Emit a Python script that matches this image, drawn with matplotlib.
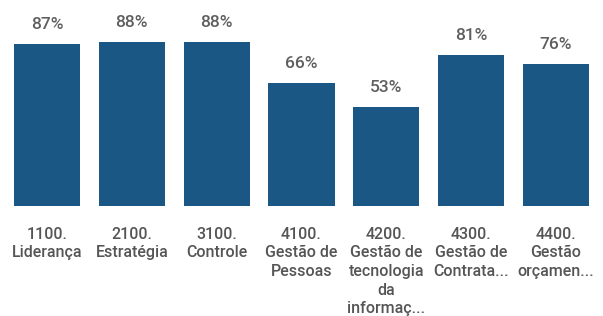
import matplotlib.pyplot as plt

plt.rcParams['font.family'] = ['Roboto', 'DejaVu Sans']

categories = ['1100.\nLiderança', '2100.\nEstratégia', '3100.\nControle',
              '4100.\nGestão de\nPessoas', '4200.\nGestão de\ntecnologia\nda\ninformaç...',
              '4300.\nGestão de\nContrata...', '4400.\nGestão\norçamen...']
values = [87, 88, 88, 66, 53, 81, 76]

fig = plt.figure(figsize=(6.03, 3.16), dpi=100)
ax = fig.add_axes([0.0076, 0.348, 0.9848, 0.652])

x = range(len(values))
bars = ax.bar(x, values, width=0.78, color='#1a5785')
for xi, v in zip(x, values):
    ax.text(xi, v + 6.5, f'{v}%', ha='center', va='bottom', fontsize=12.5,
            color='#5f5f5f', fontweight='medium')

ax.set_xlim(-0.5, len(values) - 0.5)
ax.set_ylim(0, 110.5)
ax.set_xticks(list(x))
ax.set_xticklabels(categories, fontsize=11.5, color='#555555', linespacing=1.3,
                   va='top', fontweight='medium')
ax.tick_params(axis='x', length=0, pad=15)
ax.set_yticks([])
for s in ax.spines.values():
    s.set_visible(False)

fig.savefig('out.png', dpi=100, facecolor='white')
